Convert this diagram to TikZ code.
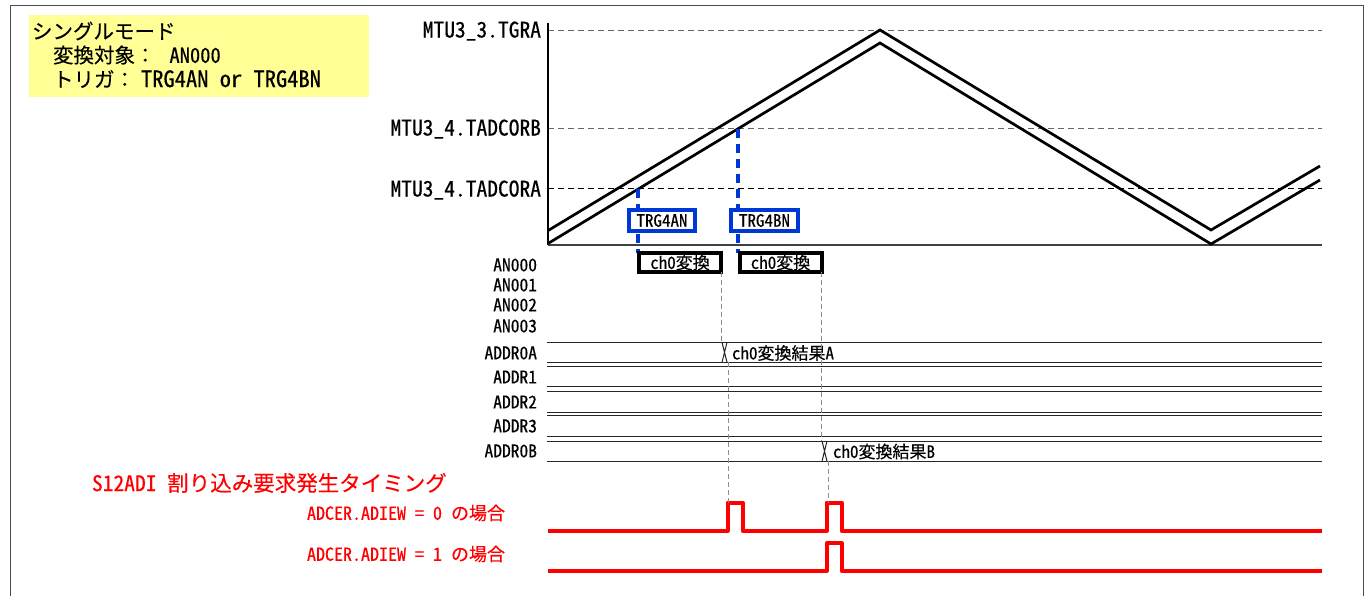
\documentclass[tikz,border=0pt]{standalone}
\usepackage{fontspec}
\setmainfont{Noto Sans CJK JP}[FakeBold=0.3]
\newfontfamily\latf[RawFeature=+hwid, FakeBold=0.35]{Noto Sans CJK JP}
\newcommand\fsz[1]{\fontsize{#1}{#1}\selectfont}
\definecolor{trgblue}{RGB}{0,56,214}
\definecolor{notefill}{RGB}{255,255,150}
\definecolor{irq}{RGB}{255,0,0}
\begin{document}
\begin{tikzpicture}[x=1pt,y=-1pt,
  every node/.style={inner sep=0pt, outer sep=0pt},
  axislbl/.style={anchor=east, font=\latf\fsz{21.5}},
  siglbl/.style={anchor=east, font=\latf\fsz{17.5}},
  irqlbl/.style={anchor=east, text=irq, font=\fsz{18}},
  trgbox/.style={draw=trgblue, line width=3.6pt, fill=white, minimum width=66.5pt, minimum height=21.5pt, font=\latf\fsz{17}},
  convbox/.style={draw=black, line width=4pt, fill=white, minimum width=82pt, minimum height=19pt, font=\fsz{17}},
  wave/.style={line width=2.7pt, line join=miter},
  level/.style={line width=1pt, dash pattern=on 6pt off 4pt},
  guide/.style={draw=black!45, line width=0.8pt, dash pattern=on 5pt off 3pt},
  trigline/.style={draw=trgblue, line width=3.2pt, dash pattern=on 9pt off 6pt},
  regline/.style={draw=black!85, line width=1pt},
  pulse/.style={draw=irq, line width=4pt, line join=round},
]
\useasboundingbox (0,0) rectangle (1370,596);
\fill[white] (0,0) rectangle (1370,596);
% frame
\draw[black!70, line width=1pt] (10,596) -- (10,6) -- (1363,6) -- (1363,596);

% note box
\node[fill=notefill, minimum width=340pt, minimum height=82pt, anchor=north west] (note) at (29,15) {};
\node[anchor=west, font=\fsz{20.5}] (mode) at (32,31) {シングルモード};
\node[anchor=west, font=\fsz{20.5}] (target) at (53,55) {変換対象：\hspace{14pt}{\latf AN000}};
\node[anchor=west, font=\fsz{20.5}] (trig) at (53,79) {トリガ：\hspace{6pt}{\latf\fsz{22.5}TRG4AN or TRG4BN}};

% level labels
\node[axislbl] (lTGRA) at (541,31) {MTU3\_3.TGRA};
\node[axislbl] (lCORB) at (541,129) {MTU3\_4.TADCORB};
\node[axislbl] (lCORA) at (541,190) {MTU3\_4.TADCORA};
\coordinate (eTGRA) at (1322,31);
\coordinate (eCORB) at (1322,129);
\coordinate (eCORA) at (1322,189);
\draw[level, black!60] (548,31) -- (eTGRA);
\draw[level, black!60] (548,129) -- (eCORB);
\draw[level, black] (548,189) -- (eCORA);

% axes
\draw[line width=1.4pt] (548,23) -- (548,245);
\draw[line width=1.2pt, black!75] (548,245) -- (1322,245);

% triangle counter (double line)
\draw[wave] (548,230.6) -- (880,30) -- (1211,230) -- (1320,166);
\draw[wave] (548,243.5) -- (880,43) -- (1211,244) -- (1320,180);

% trigger points
\coordinate (tA) at (638,189);
\coordinate (tB) at (738,129);

% conversion boxes
\node[convbox] (chA) at (680,262.5) {{\latf ch0}変換};
\node[convbox] (chB) at (780.5,262.5) {{\latf ch0}変換};

\draw[trigline] (tA) -- (tA |- chA.north);
\draw[trigline] (tB) -- (tB |- chB.north);

\node[trgbox] (trgA) at (662,220.5) {TRG4AN};
\node[trgbox] (trgB) at (764.5,220.5) {TRG4BN};
\node[convbox] at (chA) {{\latf ch0}変換};
\node[convbox] at (chB) {{\latf ch0}変換};

% signal labels
\node[siglbl] (an0) at (537,265) {AN000};
\node[siglbl] (an1) at (537,285) {AN001};
\node[siglbl] (an2) at (537,305) {AN002};
\node[siglbl] (an3) at (537,326) {AN003};
\node[siglbl] (r0A) at (537,353) {ADDR0A};
\node[siglbl] (r1) at (537,377) {ADDR1};
\node[siglbl] (r2) at (537,402) {ADDR2};
\node[siglbl] (r3) at (537,426) {ADDR3};
\node[siglbl] (r0B) at (537,451) {ADDR0B};

% register rows
\foreach \t/\b in {342.3/362.3, 366.3/386.7, 391.3/412, 415.7/436.7, 441/461.3}{
  \draw[regline] (547,\t) -- (1322,\t);
  \draw[regline] (547,\b) -- (1322,\b);
}
% data change marks
\draw[regline] (722,342.3) -- (727,362.3) (727,342.3) -- (722,362.3);
\draw[regline] (822,441) -- (827,461.3) (827,441) -- (822,461.3);
\node[anchor=west, font=\fsz{17}] (resA) at (732,353) {{\latf ch0}変換結果{\latf A}};
\node[anchor=west, font=\fsz{17}] (resB) at (833,451.5) {{\latf ch0}変換結果{\latf B}};

% interrupt pulses
\coordinate (p1) at (728,502.7);
\coordinate (p2) at (828,502.7);
\draw[pulse] (548,530.7) -- (727.7,530.7) -- (727.7,502.7) -- (742.7,502.7) -- (742.7,530.7)
  -- (826.7,530.7) -- (826.7,502.7) -- (841.7,502.7) -- (841.7,530.7) -- (1322,530.7);
\draw[pulse] (548,570.7) -- (826.7,570.7) -- (826.7,543.3) -- (841.7,543.3) -- (841.7,570.7) -- (1322,570.7);

% guides
\draw[guide] (chA.south east) -- (chA.south east |- 0,342.3);
\draw[guide] (728,362.3) -- (p1);
\draw[guide] (chB.south east) -- (chB.south east |- 0,441);
\draw[guide] (828,461.3) -- (p2);

% interrupt labels
\node[anchor=west, text=irq, font=\fsz{21.5}] (irqt) at (92,483) {{\latf S12ADI }割り込み要求発生タイミング};
\node[irqlbl] (ie0) at (505,513) {{\latf ADCER.ADIEW = 0 }の場合};
\node[irqlbl] (ie1) at (505,554) {{\latf ADCER.ADIEW = 1 }の場合};
\end{tikzpicture}
\end{document}
